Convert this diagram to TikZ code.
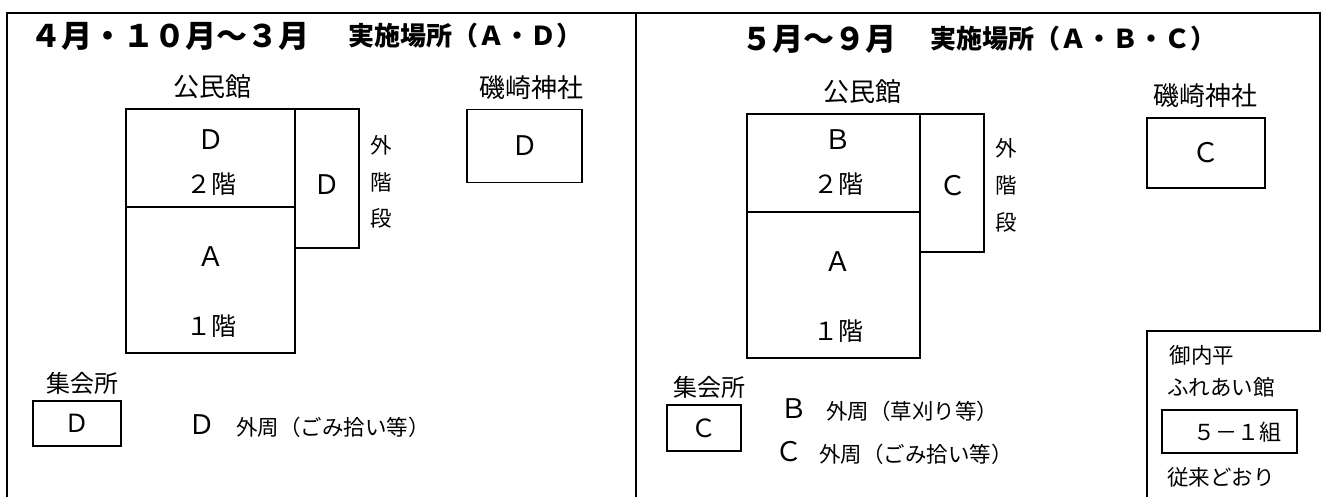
\documentclass[tikz,border=0pt]{standalone}
\usepackage{fontspec}
\setmainfont{Noto Sans CJK JP}
\usepackage{tikz}

\begin{document}
\begin{tikzpicture}[x=1pt,y=-1pt]
\tikzstyle{every node}=[inner sep=0pt, font=\fontsize{25}{25}\selectfont]
\tikzstyle{room}=[draw, line width=1.8pt, rectangle]
\tikzstyle{hut}=[draw, line width=1.4pt, rectangle]
\tikzstyle{big}=[font=\fontsize{31}{31}\selectfont\bfseries]
\tikzstyle{mid}=[font=\fontsize{26}{26}\selectfont\bfseries]
\tikzstyle{label}=[font=\fontsize{26}{26}\selectfont]
\tikzstyle{letter}=[font=\fontsize{27}{27}\selectfont]
\tikzstyle{small}=[font=\fontsize{21.5}{21.5}\selectfont]
\useasboundingbox (0,0) rectangle (1328,497);
\draw[line width=1.8pt] (7,497) -- (7,13) -- (1320,13) -- (1320,331) -- (1147,331) -- (1147,497);
\draw[line width=1.5pt] (636,13) -- (636,497);
% 4月・10月～3月
\draw (30,36) node (t1) [big, anchor=west] {４月・１０月～３月};
\draw (348,36) node (t2) [mid, anchor=west] {実施場所（Ａ・Ｄ）};
\draw (212,87) node (k1) [label] {公民館};
\draw (210.5,158) node (f2a) [room, minimum width=169pt, minimum height=98pt] {};
\draw (210.5,280) node (f1a) [room, minimum width=169pt, minimum height=146pt] {};
\draw (327,178.5) node (sa) [room, minimum width=64pt, minimum height=139pt] {};
\draw (211,140) node (f2a1) [letter] {Ｄ};
\draw (211,184) node (f2a2) {２階};
\draw (211,257) node (f1a1) [letter] {Ａ};
\draw (211,326) node (f1a2) {１階};
\draw (327,185) node (sa1) [letter] {Ｄ};
\draw (381,145) node (ga1) [small] {外};
\draw (381,182) node (ga2) [small] {階};
\draw (381,218) node (ga3) [small] {段};
\draw (531,88) node (j1) [label] {磯崎神社};
\draw (524.5,146) node (ja) [hut, letter, minimum width=115pt, minimum height=73pt] {Ｄ};
\draw (82,383) node (s1) [font=\fontsize{24}{24}\selectfont] {集会所};
\draw (77,423.5) node (sa2) [hut, minimum width=88pt, minimum height=45pt] {Ｄ};
\draw (202,425) node (oa) [letter] {Ｄ};
\draw (236,427) node (oa1) [small, anchor=west] {外周（ごみ拾い等）};
% 5月～9月
\draw (741,39) node (t3) [big, anchor=west] {５月～９月};
\draw (930,39) node (t4) [mid, anchor=west] {実施場所（Ａ・Ｂ・Ｃ）};
\draw (862,92) node (k2) [label] {公民館};
\draw (833.5,163) node (f2b) [room, minimum width=173pt, minimum height=98pt] {};
\draw (833.5,285) node (f1b) [room, minimum width=173pt, minimum height=146pt] {};
\draw (952,183) node (sb) [room, minimum width=64pt, minimum height=138pt] {};
\draw (838,140) node (f2b1) [letter] {Ｂ};
\draw (838,184) node (f2b2) {２階};
\draw (838,262) node (f1b1) [letter] {Ａ};
\draw (838,331) node (f1b2) {１階};
\draw (953,186) node (sb1) [letter] {Ｃ};
\draw (1006,148) node (gb1) [small] {外};
\draw (1006,185) node (gb2) [small] {階};
\draw (1006,222) node (gb3) [small] {段};
\draw (1205,96) node (j2) [label] {磯崎神社};
\draw (1206,153) node (jb) [hut, letter, minimum width=118pt, minimum height=70pt] {Ｃ};
\draw (709,387) node (s2) [font=\fontsize{24}{24}\selectfont] {集会所};
\draw (704,428) node (sb2) [hut, minimum width=74pt, minimum height=46pt] {Ｃ};
\draw (794,409) node (ob) [letter] {Ｂ};
\draw (826,411) node (ob1) [small, anchor=west] {外周（草刈り等）};
\draw (789,452) node (oc) [letter] {Ｃ};
\draw (819,454) node (oc1) [small, anchor=west] {外周（ごみ拾い等）};
\draw (1202,355) node (m1) [small] {御内平};
\draw (1221,387) node (m2) [small] {ふれあい館};
\draw (1229.5,431.5) node (m3) [hut, minimum width=135pt, minimum height=43pt] {};
\draw (1237,432) node (m4) [font=\fontsize{22}{22}\selectfont] {５－１組};
\draw (1221,477) node (m5) [small] {従来どおり};
\end{tikzpicture}
\end{document}
